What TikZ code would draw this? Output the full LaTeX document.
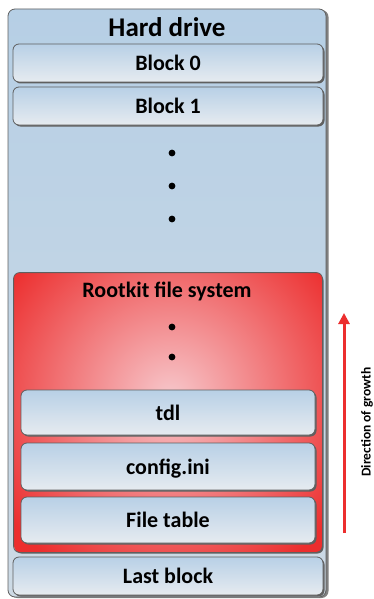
\documentclass[tikz,border=0pt]{standalone}
\usepackage{fontspec}
\setmainfont{Carlito}
\usetikzlibrary{shadows,arrows.meta,positioning}

\definecolor{diskTop}{RGB}{182,207,229}
\definecolor{diskBot}{RGB}{205,218,229}
\definecolor{blkTop}{RGB}{184,208,230}
\definecolor{blkBot}{RGB}{230,235,240}
\definecolor{rootRed}{RGB}{236,46,46}
\definecolor{rootPink}{RGB}{247,200,204}
\definecolor{edgeGray}{RGB}{95,95,95}

\newcommand{\disktitle}{\fontsize{27}{30}\selectfont\bfseries}
\newcommand{\blocklabel}{\fontsize{22}{24}\selectfont\bfseries}
\newcommand{\growlabel}{\fontsize{13.5}{15}\selectfont\bfseries}

\begin{document}
\begin{tikzpicture}[x=1pt, y=-1pt,
  diskbox/.style={draw=edgeGray, line width=0.8pt, rounded corners=7pt, top color=diskTop, bottom color=diskBot,
    minimum width=318pt, minimum height=588pt, inner sep=0pt,
    drop shadow={shadow xshift=2.5pt, shadow yshift=-1pt, fill=gray, opacity=1}},
  blockbox/.style={draw=edgeGray, line width=0.8pt, rounded corners=6pt, top color=blkTop, bottom color=blkBot,
    minimum width=310pt, minimum height=38pt, inner sep=0pt, font=\blocklabel, text height=15pt, text depth=0pt,
    drop shadow={shadow xshift=1.5pt, shadow yshift=-1.5pt, fill=edgeGray, opacity=1}},
  filebox/.style={blockbox, minimum width=294pt},
  rootbox/.style={fill=rootRed, line width=0.8pt, rounded corners=6pt, minimum width=308pt, minimum height=279pt,
    inner sep=0pt, drop shadow={shadow xshift=1.5pt, shadow yshift=-1.5pt, fill=edgeGray, opacity=1}},
  growarrow/.style={draw=rootRed, line width=3pt, -{Triangle[length=11pt, width=11pt]}}]
\useasboundingbox (0,0) rectangle (373,599);

% the disk
\node[diskbox] (disk) at (167,303) {};
\node[font=\disktitle, anchor=base] (disktitle) at (167,37) {Hard drive};

\node[blockbox] (blk0) at (168,63) {Block 0};
\node[blockbox] (blk1) at (168,106) {Block 1};

\fill (172,153) circle (3.4pt);
\fill (172,186) circle (3.4pt);
\fill (172,219) circle (3.4pt);

% hidden file system, grows upwards from the end of the disk
\node[rootbox] (rootfs) at (168,412.5) {};
\begin{scope}
\clip[rounded corners=6pt] (rootfs.north west) rectangle (rootfs.south east);
\shade[inner color=rootPink, outer color=rootRed] (170,398) circle (200pt);
\end{scope}
\draw[edgeGray, line width=0.8pt, rounded corners=6pt] (rootfs.north west) rectangle (rootfs.south east);
\node[font=\blocklabel, anchor=base] (roottitle) at (167,297) {Rootkit file system};

\fill (172,327) circle (3.4pt);
\fill (172,357) circle (3.4pt);

\node[filebox, minimum height=45pt] (tdl) at (168,412.5) {tdl};
\node[filebox, minimum height=47pt] (cfg) at (168,466.5) {config.ini};
\node[filebox, minimum height=46pt] (ftab) at (168,520) {File table};

\node[blockbox] (lastblk) at (168,576) {Last block};

% growth direction
\coordinate (growA) at (344,533);
\coordinate (growB) at (344,313);
\draw[growarrow] (growA) -- (growB);
\node[font=\growlabel, rotate=90] (growlbl) at (367,422) {Direction of growth};
\end{tikzpicture}
\end{document}
